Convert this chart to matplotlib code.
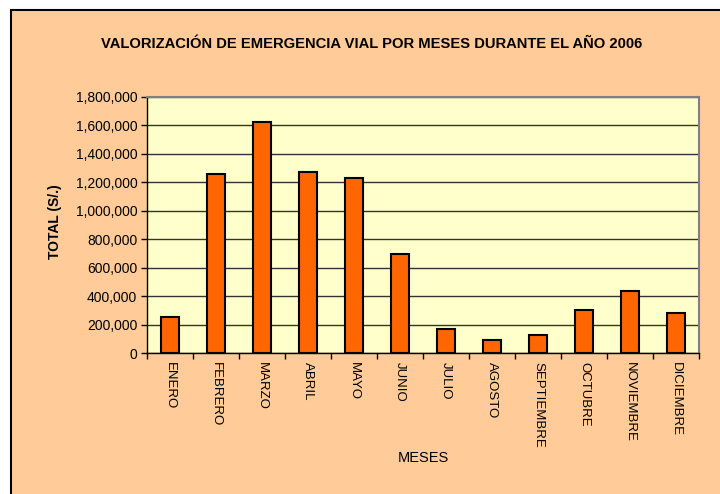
import matplotlib
matplotlib.use("Agg")
import matplotlib.pyplot as plt
from matplotlib.patches import Rectangle
from matplotlib.ticker import FuncFormatter, MultipleLocator
import numpy as np

months = ["ENERO", "FEBRERO", "MARZO", "ABRIL", "MAYO", "JUNIO", "JULIO",
          "AGOSTO", "SEPTIEMBRE", "OCTUBRE", "NOVIEMBRE", "DICIEMBRE"]
totals = [251000, 1261000, 1624000, 1275000, 1233000, 694000, 169000,
          91000, 127000, 302000, 434000, 279000]

title = "VALORIZACIÓN DE EMERGENCIA VIAL POR MESES DURANTE EL AÑO 2006"
ylabel = "TOTAL (S/.)"
xlabel = "MESES"

plt.rcParams['font.family'] = ['Liberation Sans', 'DejaVu Sans']

W, H = 720, 494
fig = plt.figure(figsize=(W / 100, H / 100), dpi=100)
fig.patch.set_facecolor("white")

# chart area background
bg = Rectangle((11 / W, -0.2), 1.2, 1.2 - 10 / H, transform=fig.transFigure,
               facecolor="#FFCC99", edgecolor="black", linewidth=1.5, zorder=-10)
fig.add_artist(bg)

ax = fig.add_axes([147 / W, 1 - 353 / H, 552 / W, 256 / H])
ax.set_zorder(5)
ax.set_facecolor("#FFFFCC")

x = np.arange(len(months))
ax.bar(x, totals, width=0.39, color="#FF6600", edgecolor="black",
       linewidth=1.5, zorder=3)

ax.set_xlim(-0.5, len(months) - 0.5)
ax.set_ylim(0, 1800000)
ax.yaxis.set_major_locator(MultipleLocator(200000))
ax.yaxis.set_major_formatter(FuncFormatter(lambda v, p: f"{int(v):,}"))
ax.grid(axis="y", color="#333333", linewidth=1.0, zorder=1)

# category boundary ticks on x
ax.set_xticks(np.arange(-0.5, len(months) + 0.5, 1.0))
ax.set_xticklabels([])
ax.tick_params(axis="x", direction="out", length=4, width=1, color="black")
ax.tick_params(axis="y", direction="out", length=4, width=1, color="black",
               labelsize=10, pad=3)
for xi, m in zip(x, months):
    ax.text(xi, -0.035, m, transform=ax.get_xaxis_transform(), rotation=270,
            ha="center", va="top", fontsize=9.5, color="black")

for side in ["top", "right"]:
    ax.spines[side].set_color("#808080")
    ax.spines[side].set_linewidth(1.5)
for side in ["left", "bottom"]:
    ax.spines[side].set_color("black")
    ax.spines[side].set_linewidth(1.0)

fig.text(372 / W, 1 - 44 / H, title, ha="center", va="center",
         fontsize=10.6, fontweight="bold")
fig.text(55 / W, 1 - 222 / H, ylabel, ha="center", va="center",
         rotation=90, fontsize=10, fontweight="bold")
fig.text(423 / W, 1 - 458 / H, xlabel, ha="center", va="center",
         fontsize=10.5)

fig.savefig("out.png", dpi=100, facecolor=fig.get_facecolor())
